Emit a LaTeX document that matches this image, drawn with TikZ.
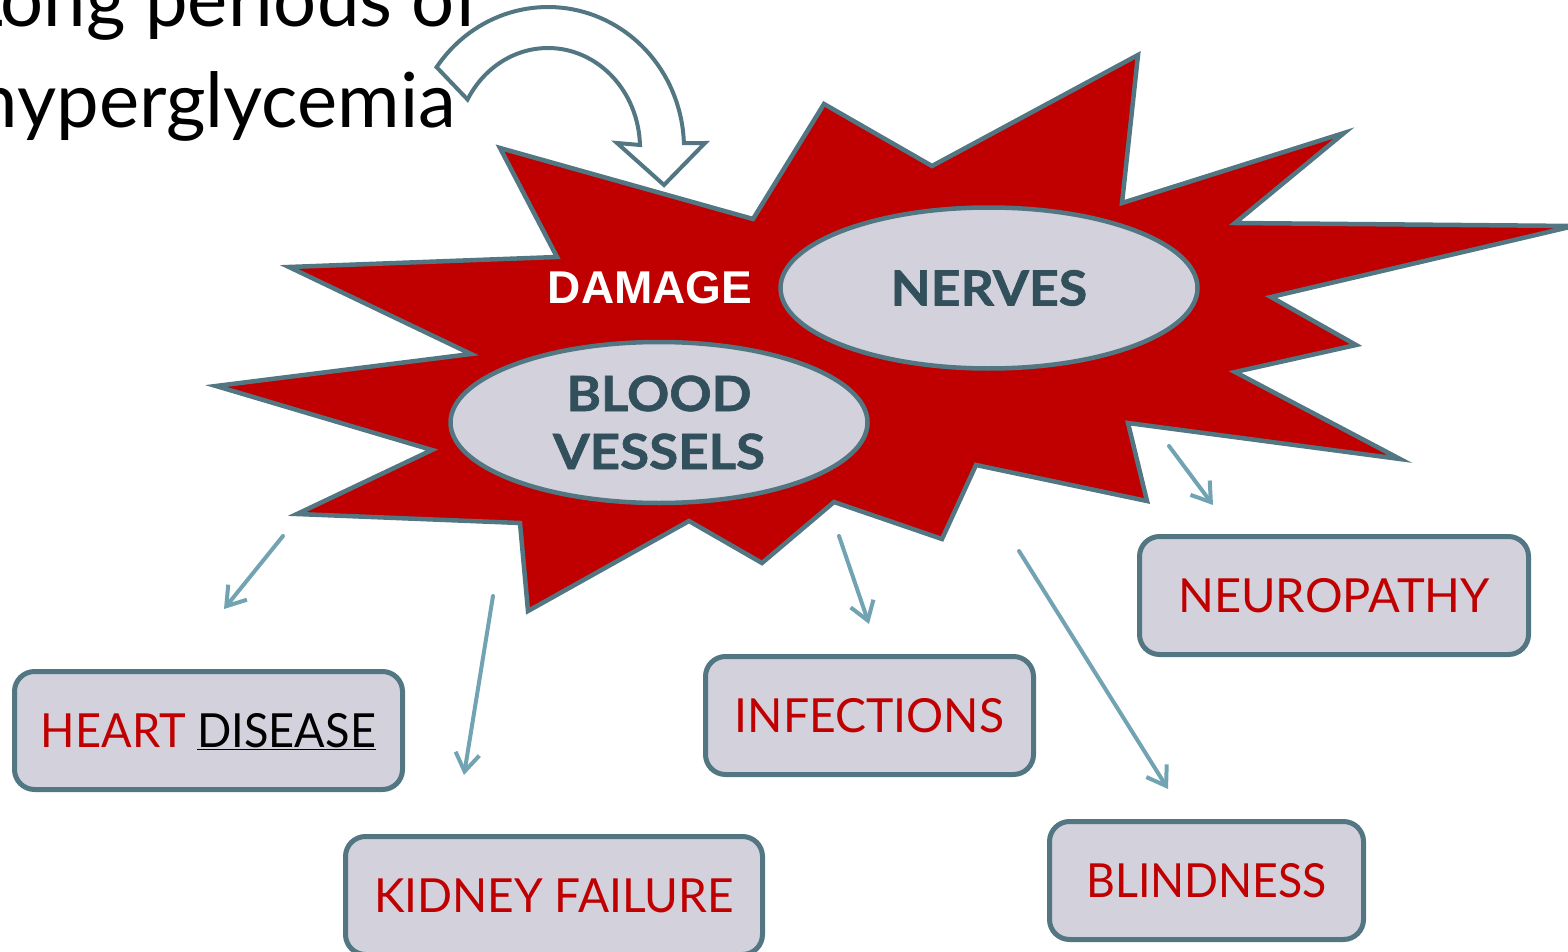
\documentclass[tikz,border=0pt]{standalone}
\usepackage{fontspec}
\setmainfont{Lato}
\newfontfamily\organfont{Lato}[BoldFeatures={FakeBold=1.2}]
\newfontfamily\arialfont{Liberation Sans}
\usetikzlibrary{shapes.geometric,arrows.meta}
\definecolor{starred}{HTML}{C00000}
\definecolor{slate}{HTML}{527682}
\definecolor{lav}{HTML}{D2D1DC}
\definecolor{darkslate}{HTML}{31505C}
\definecolor{arrowblue}{HTML}{72A3B2}
\newcommand{\wid}[2]{\scalebox{#1}[1]{#2}}
\begin{document}
\begin{tikzpicture}[x=1pt,y=-1pt,
  starburst/.style={fill=starred,draw=slate,line width=4.5pt,line join=miter,miter limit=6},
  organ/.style={ellipse,draw=slate,fill=lav,line width=4.5pt,minimum width=417pt,minimum height=161pt,inner sep=0pt,
    text=darkslate,font=\organfont\fontsize{48.5}{58}\selectfont\bfseries,align=center},
  effbox/.style={draw=slate,fill=lav,line width=5pt,rounded corners=20pt,minimum height=118pt,inner sep=0pt,
    text=starred,font=\fontsize{47}{56}\selectfont,text height=33.7pt,text depth=0pt},
  effarrow/.style={draw=arrowblue,line width=4pt,line cap=round,-{Straight Barb[length=18pt,width=24pt]}},
  bigarrow/.style={draw=slate,fill=white,line width=4pt,line join=miter},
  titletext/.style={font=\fontsize{76}{96}\selectfont,text=black,inner sep=0pt}
]
\useasboundingbox (0,0) rectangle (1568,952);
\clip (0,0) rectangle (1568,952);

% title text
\node[titletext,anchor=base east] (line1) at (481,27) {Long periods of};
\node[titletext,anchor=base east] (line2) at (456,128) {hyperglycemia};

% big curved hollow arrow
\draw[bigarrow] plot[domain=-145:-2,samples=60] ({548+136*cos(\x)},{148+141*sin(\x)})
  -- (705,143) -- (664,185) -- (617,143) -- (640,145)
  -- plot[domain=-2:-151,samples=60] ({548+92*cos(\x)},{148+100*sin(\x)}) -- cycle;

% starburst
\draw[starburst] (500,148) -- (753,219) -- (824,104) -- (932,166) -- (1138,55) -- (1122,203)
  -- (1344,133) -- (1235,223) -- (1574,226) -- (1271,297) -- (1356,345) -- (1235,372)
  -- (1400,459) -- (1128,423) -- (1147,501) -- (976,465) -- (942,539) -- (834,502)
  -- (762,563) -- (689,521) -- (528,611) -- (520,523) -- (297,514) -- (432,450)
  -- (216,386) -- (471,354) -- (289,267) -- (557,257) -- cycle;

% ellipses
\node[organ] (nerves) at (989,288) {\wid{1.07}{NERVES}};
\node[organ] (vessels) at (659,422.5) {\wid{1.08}{BLOOD}\\\wid{1.09}{VESSELS}};
\node[font=\arialfont\fontsize{46}{55}\selectfont\bfseries,text=white,anchor=base,inner sep=0pt] (damage) at (650,303) {DAMAGE};

% effect boxes
\node[effbox,minimum width=388pt] (heart) at (208.5,730.5) {\wid{0.96}{HEART \textcolor{black}{\underline{DISEASE}}}};
\node[effbox,minimum width=417pt] (kidney) at (554,895.5) {\wid{0.98}{KIDNEY FAILURE}};
\node[effbox,minimum width=328pt] (infect) at (869.5,715.5) {\wid{0.985}{INFECTIONS}};
\node[effbox,minimum width=389pt] (neuro) at (1334,595.5) {NEUROPATHY};
\node[effbox,minimum width=314pt] (blind) at (1206.5,880.5) {\wid{0.95}{BLINDNESS}};

% arrows (free floating)
\coordinate (a1s) at (283,536); \coordinate (a1e) at (224,609);
\coordinate (a2s) at (493,596); \coordinate (a2e) at (464,775);
\coordinate (a3s) at (839,536); \coordinate (a3e) at (869,624);
\coordinate (a4s) at (1019,551); \coordinate (a4e) at (1168,789);
\coordinate (a5s) at (1169,446); \coordinate (a5e) at (1213,505);
\draw[effarrow] (a1s) -- (a1e);
\draw[effarrow] (a2s) -- (a2e);
\draw[effarrow] (a3s) -- (a3e);
\draw[effarrow] (a4s) -- (a4e);
\draw[effarrow] (a5s) -- (a5e);
\end{tikzpicture}
\end{document}
